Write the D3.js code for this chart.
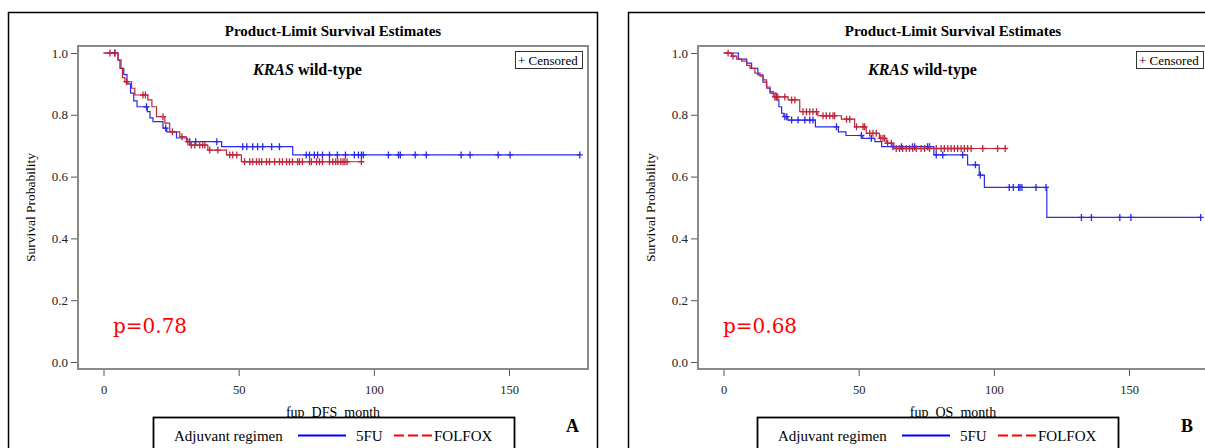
<!DOCTYPE html>
<html>
<head>
<meta charset="utf-8">
<script src="https://cdn.jsdelivr.net/npm/d3@7"></script>
<style>
body { margin: 0; background: #fff; }
svg text { font-family: "Liberation Serif", "Times New Roman", serif; }
</style>
</head>
<body>
<svg id="chart" width="1205" height="448"></svg>
<script>
// step points [month, survival] and censor times
var dfs5fuSteps = [[0,1.0],[5.4,0.977],[6.1,0.95],[7.5,0.93],[8.7,0.90],[10.0,0.87],[11.2,0.845],[12.4,0.826],[16.2,0.81],[17.2,0.79],[18.3,0.778],[22.0,0.757],[23.4,0.745],[27.0,0.725],[30.8,0.713],[43.7,0.697],[70.0,0.67]];
var dfs5fuCensor = [4.2, 15.9, 23.0, 31.9, 34.1, 41.9, 51.5, 53.0, 55.2, 57.0, 58.9, 62.2, 65.1, 75.0, 76.2, 78.0, 79.2, 81.0, 83.6, 86.5, 89.5, 92.8, 94.3, 95.4, 96.1, 105.4, 109.1, 109.8, 115.3, 119.4, 132.3, 135.6, 146.0, 150.4, 176.2];
var dfs5fuEnd = 176.2;

var dfsFolfoxSteps = [[0,1.0],[5.4,0.977],[6.5,0.95],[7.0,0.92],[7.9,0.907],[10.4,0.886],[11.6,0.864],[16.4,0.848],[17.9,0.826],[19.6,0.794],[22.7,0.773],[24.5,0.745],[28.2,0.729],[30.7,0.713],[31.9,0.702],[38.6,0.686],[45.5,0.67],[51.0,0.648]];
var dfsFolfoxCensor = [2.4, 4.2, 8.5, 14.6, 15.5, 22.0, 25.5, 29.0, 31.2, 32.5, 33.8, 35.6, 36.7, 37.5, 39.3, 42.3, 46.7, 47.8, 49.3, 52.2, 54.1, 55.2, 56.6, 57.6, 58.5, 60.3, 61.4, 63.3, 65.1, 66.2, 67.7, 68.8, 69.9, 71.8, 72.5, 73.6, 76.2, 76.9, 78.8, 79.9, 81.0, 83.6, 84.8, 85.9, 86.7, 87.8, 88.6, 89.3, 90.1, 95.4];
var dfsFolfoxEnd = 95.4;

var os5fuSteps = [[0,1.0],[5.5,0.98],[8.6,0.967],[10.4,0.95],[12.7,0.929],[14.6,0.906],[16.0,0.886],[17.2,0.87],[19.5,0.848],[20.5,0.826],[21.5,0.805],[22.3,0.794],[23.8,0.783],[34.0,0.761],[42.5,0.745],[45.3,0.733],[51.5,0.724],[56.0,0.713],[58.5,0.697],[77.8,0.67],[90.3,0.638],[94.6,0.605],[96.5,0.565],[119.6,0.468]];
var os5fuCensor = [22.7, 23.4, 25.2, 27.6, 30.1, 31.9, 33.1, 41.8, 51.0, 54.7, 62.7, 65.8, 69.9, 70.7, 75.5, 76.2, 78.7, 81.1, 88.5, 93.2, 95.0, 105.7, 107.2, 109.2, 109.7, 110.4, 115.6, 119.3, 132.4, 136.1, 146.6, 150.7, 176.5];
var os5fuEnd = 176.5;

var osFolfoxSteps = [[0,1.0],[3.0,0.99],[4.9,0.98],[6.7,0.974],[8.6,0.96],[9.8,0.95],[11.6,0.935],[13.5,0.925],[14.7,0.913],[15.9,0.89],[17.2,0.875],[18.4,0.858],[23.9,0.848],[28.2,0.81],[34.9,0.797],[43.6,0.786],[48.5,0.761],[52.8,0.74],[57.7,0.724],[60.2,0.708],[63.0,0.691]];
var osFolfoxCensor = [1.7, 3.5, 19.0, 19.6, 20.1, 22.7, 25.2, 26.4, 29.4, 30.7, 31.9, 33.1, 34.4, 36.8, 38.0, 39.3, 40.5, 41.1, 45.5, 46.7, 49.2, 51.6, 52.2, 54.1, 55.3, 56.5, 58.2, 59.0, 59.6, 60.7, 62.1, 63.9, 65.1, 66.3, 67.6, 68.8, 70.0, 71.3, 73.1, 74.4, 76.2, 78.7, 80.5, 81.7, 83.0, 84.2, 85.4, 86.6, 87.9, 89.1, 90.3, 91.6, 95.9, 101.4, 104.2];
var osFolfoxEnd = 104.2;

var xTicks = [0, 50, 100, 150];
var yTicks = [0, 0.2, 0.4, 0.6, 0.8, 1.0];
var groupNames = ['5FU', 'FOLFOX'];
var pValues = ['p=0.78', 'p=0.68'];
var xLabels = ['fup_DFS_month', 'fup_OS_month'];
var panelLetters = ['A', 'B'];

var curveColors = ['#2a2ae8', '#c0263a'];
var legendColors = ['#0000ff', '#ff0000'];

var svg = d3.select('#chart');

var panels = [
	{ dx: 0, pX: 113, subX: 253, legX: 153, cenX: 515, letterX: 566,
	  series: [[dfs5fuSteps, dfs5fuCensor, dfs5fuEnd], [dfsFolfoxSteps, dfsFolfoxCensor, dfsFolfoxEnd]] },
	{ dx: 620, pX: 723, subX: 868, legX: 757, cenX: 1136, letterX: 1181,
	  series: [[os5fuSteps, os5fuCensor, os5fuEnd], [osFolfoxSteps, osFolfoxCensor, osFolfoxEnd]] }
];

function survAt(steps, t) {
	var s = steps[0][1];
	steps.forEach(function(d) { if (d[0] <= t) s = d[1]; });
	return s;
}

function drawPanel(p, i) {
	var g = svg.append('g').attr('transform', 'translate(' + p.dx + ',0)');
	var left = 78, right = 588, top = 46, bottom = 369;

	var x = d3.scaleLinear().domain([0, 150]).range([103.5, 509]);
	var y = d3.scaleLinear().domain([0, 1]).range([362, 53]);

	// outer frame
	g.append('rect')
		.attr('x', 8.5).attr('y', 12.5)
		.attr('width', 589).attr('height', 500)
		.attr('fill', 'none').attr('stroke', '#000').attr('stroke-width', 1.5);

	g.append('text')
		.attr('x', (left + right) / 2).attr('y', 36)
		.attr('text-anchor', 'middle')
		.style('font-size', '15px').style('font-weight', 'bold')
		.text('Product-Limit Survival Estimates');

	// plot frame
	g.append('rect')
		.attr('x', left).attr('y', top)
		.attr('width', right - left).attr('height', bottom - top)
		.attr('fill', 'none').attr('stroke', '#8a8a8a').attr('stroke-width', 2);

	var yAxis = g.append('g')
		.attr('transform', 'translate(' + (left - 1) + ',0)')
		.call(d3.axisLeft(y).tickValues(yTicks).tickFormat(d3.format('.1f')).tickSize(6).tickPadding(3))
		.attr('font-family', '"Liberation Serif", serif');
	yAxis.select('.domain').remove();
	yAxis.selectAll('line').attr('stroke', '#555');
	yAxis.selectAll('text').style('font-size', '13px').attr('fill', '#222');

	var xAxis = g.append('g')
		.attr('transform', 'translate(0,' + (bottom + 1) + ')')
		.call(d3.axisBottom(x).tickValues(xTicks).tickSize(6).tickPadding(9))
		.attr('font-family', '"Liberation Serif", serif');
	xAxis.select('.domain').remove();
	xAxis.selectAll('line').attr('stroke', '#555');
	xAxis.selectAll('text').style('font-size', '12.5px').attr('fill', '#222');

	g.append('text')
		.attr('transform', 'translate(35,' + ((top + bottom) / 2) + ') rotate(-90)')
		.attr('text-anchor', 'middle')
		.style('font-size', '13.5px')
		.text('Survival Probability');

	g.append('text')
		.attr('x', (left + right) / 2).attr('y', 417)
		.attr('text-anchor', 'middle')
		.style('font-size', '14px')
		.text(xLabels[i]);

	// subtitle
	var sub = svg.append('text')
		.attr('x', p.subX).attr('y', 75)
		.style('font-size', '16px').style('font-weight', 'bold');
	sub.append('tspan').style('font-style', 'italic').text('KRAS');
	sub.append('tspan').text(' wild-type');

	// censored key
	var ck = svg.append('g');
	ck.append('rect')
		.attr('x', p.cenX + 0.5).attr('y', 51.5)
		.attr('width', 67).attr('height', 17)
		.attr('fill', '#fff').attr('stroke', '#333').attr('stroke-width', 1);
	ck.append('text')
		.attr('x', p.cenX + 3).attr('y', 64.5)
		.style('font-size', '13px')
		.text('+ Censored');

	var line = d3.line()
		.x(function(d) { return x(d[0]); })
		.y(function(d) { return y(d[1]); })
		.curve(d3.curveStepAfter);

	p.series.forEach(function(s, k) {
		var steps = s[0], cens = s[1], end = s[2];
		var pts = steps.concat([[end, steps[steps.length - 1][1]]]);
		g.append('path')
			.datum(pts)
			.attr('d', line)
			.attr('fill', 'none')
			.attr('stroke', curveColors[k])
			.attr('stroke-width', 1.2);

		g.append('g').selectAll('path')
			.data(cens)
			.join('path')
			.attr('d', function(t) {
				var cx = x(t), cy = y(survAt(steps, t));
				return 'M' + (cx - 3) + ',' + cy + 'h6M' + cx + ',' + (cy - 3.5) + 'v7';
			})
			.attr('stroke', curveColors[k])
			.attr('stroke-width', 1.3)
			.attr('fill', 'none');
	});

	svg.append('text')
		.attr('x', p.pX).attr('y', 333)
		.attr('fill', '#ff0000')
		.style('font-size', '20px')
		.style('font-family', '"DejaVu Serif", serif')
		.text(pValues[i]);

	// legend
	var lg = svg.append('g').attr('transform', 'translate(' + p.legX + ',0)');
	lg.append('rect')
		.attr('x', 0.5).attr('y', 417.5)
		.attr('width', 361).attr('height', 60)
		.attr('fill', '#fff').attr('stroke', '#000').attr('stroke-width', 1.8);
	lg.append('text').attr('x', 21).attr('y', 441).style('font-size', '15px').text('Adjuvant regimen');
	lg.append('line')
		.attr('x1', 145).attr('x2', 193).attr('y1', 435.5).attr('y2', 435.5)
		.attr('stroke', legendColors[0]).attr('stroke-width', 2);
	lg.append('text').attr('x', 203).attr('y', 441).style('font-size', '15px').text(groupNames[0]);
	lg.append('line')
		.attr('x1', 241).attr('x2', 281).attr('y1', 435.5).attr('y2', 435.5)
		.attr('stroke', legendColors[1]).attr('stroke-width', 2)
		.attr('stroke-dasharray', '10,4');
	lg.append('text').attr('x', 281).attr('y', 441).style('font-size', '15px').text(groupNames[1]);

	svg.append('text')
		.attr('x', p.letterX).attr('y', 432)
		.style('font-size', '18px').style('font-weight', 'bold')
		.text(panelLetters[i]);
}

panels.forEach(drawPanel);
</script>
</body>
</html>
